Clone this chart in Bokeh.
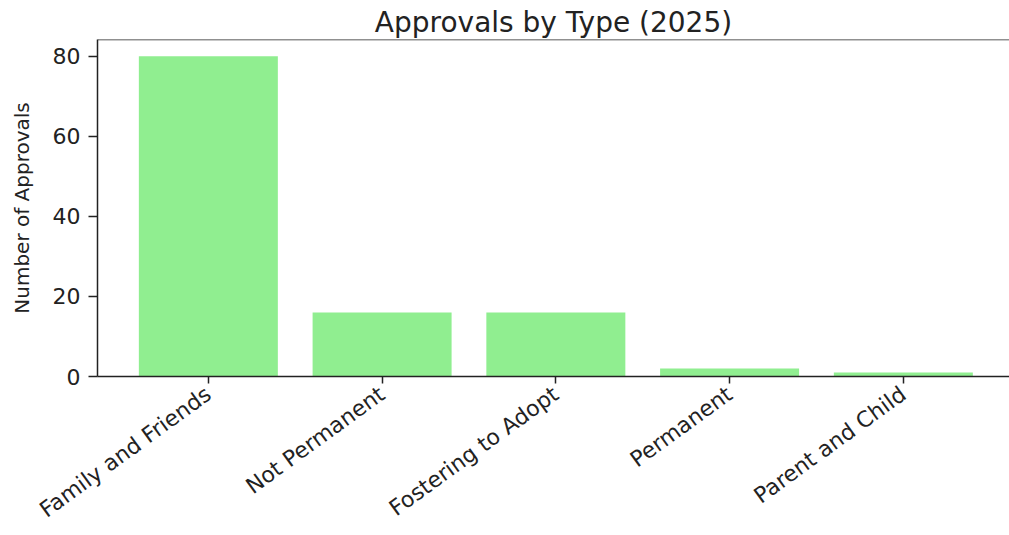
import numpy as np
from bokeh.plotting import figure
from bokeh.models import FixedTicker, Span, Range1d
from bokeh.embed import file_html
from bokeh.resources import INLINE

categories = ["Family and Friends", "Not Permanent", "Fostering to Adopt", "Permanent", "Parent and Child"]
approvals = [80, 16, 16, 2, 1]
y_ticks = [0, 20, 40, 60, 80]

xs = list(np.arange(len(categories)))

p = figure(width=1009, height=535, output_backend="svg", toolbar_location=None,
           x_range=Range1d(-0.638, 4.611), y_range=Range1d(0, 84.2),
           min_border_left=97, min_border_top=39, min_border_right=0, min_border_bottom=158)

p.vbar(x=xs, top=approvals, width=0.8, color="#90EE90", line_color=None)

p.title.text = "Approvals by Type (2025)"
p.title.align = "center"
p.title.text_font = "DejaVu Sans"
p.title.text_font_size = "28px"
p.title.text_font_style = "normal"
p.title.text_color = "#222222"
p.title.standoff = 2

p.outline_line_color = None
p.grid.visible = False
p.add_layout(Span(location=84.2, dimension="width", line_color="#222222", line_width=1.5))

xa = p.xaxis[0]
xa.ticker = FixedTicker(ticks=xs)
xa.major_label_overrides = {int(i): c for i, c in zip(xs, categories)}
xa.major_label_orientation = np.deg2rad(36)
xa.major_label_text_font = "DejaVu Sans"
xa.major_label_text_font_size = "22px"
xa.major_label_text_color = "#222222"
xa.major_label_standoff = 8
xa.major_tick_out = 7
xa.major_tick_in = 0
xa.minor_tick_out = 0
xa.minor_tick_in = 0
xa.axis_line_width = 1.5
xa.axis_line_color = "#222222"
xa.major_tick_line_width = 1.5
xa.major_tick_line_color = "#222222"

ya = p.yaxis[0]
ya.ticker = FixedTicker(ticks=y_ticks)
ya.axis_label = "Number of Approvals"
ya.axis_label_text_font = "DejaVu Sans"
ya.axis_label_text_font_size = "20px"
ya.axis_label_text_font_style = "normal"
ya.axis_label_text_color = "#222222"
ya.axis_label_standoff = 16
ya.major_label_text_font = "DejaVu Sans"
ya.major_label_text_font_size = "22px"
ya.major_label_text_color = "#222222"
ya.major_label_standoff = 8
ya.major_tick_out = 9
ya.major_tick_in = 0
ya.minor_tick_out = 0
ya.minor_tick_in = 0
ya.axis_line_width = 1.5
ya.axis_line_color = "#222222"
ya.major_tick_line_width = 1.5
ya.major_tick_line_color = "#222222"

open("out.html", "w").write(file_html(p, INLINE))
